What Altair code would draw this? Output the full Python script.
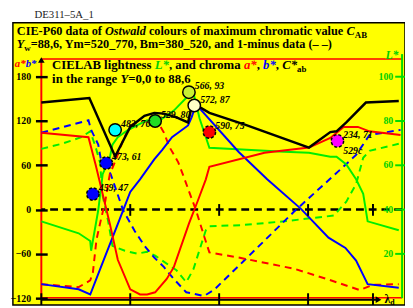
import altair as alt
import pandas as pd

# ---------------- values ----------------
X_MAX = 4.057            # dominant-wavelength axis, tick units
Y_MIN, Y_MAX = -120, 204  # a*, b*, C*ab scale

# solid curves
cab_x = [0, 0.54, 0.83, 1.00, 1.16, 1.27, 1.38, 1.52, 1.65, 1.68, 1.72, 1.89, 2.29, 3.01, 3.25, 3.32, 3.43, 3.65, 4.02]
cab_y = [145, 151, 72, 112, 127, 131, 130, 125, 118, 134, 143, 131, 115, 84, 105, 106, 118, 145, 147]

a_x = [0, 0.53, 0.61, 0.77, 0.86, 1.00, 1.11, 1.19, 1.28, 1.41, 1.49, 1.66, 1.76, 1.85, 1.89, 2.51, 3.01, 3.25, 3.40, 3.56, 3.69, 4.04]
a_y = [104, 98, 61, -19, -68, -108, -115, -115, -112, -94, -78, -19, 12, 41, 58, 77, 84, 97, 112, 112, 106, 101]

b_x = [0, 0.42, 0.55, 0.67, 0.80, 0.92, 1.00, 1.11, 1.27, 1.36, 1.47, 1.55, 1.65, 1.69, 1.73, 1.78, 2.22, 2.54, 2.92, 3.23, 3.42, 3.54, 3.67, 4.02]
b_y = [-101, -108, -115, -78, -38, -1, 24, 41, 68, 81, 98, 105, 114, 125, 139, 137, 78, 41, 1, -38, -52, -69, -101, -106]

L_x = [0, 0.42, 0.55, 0.56, 0.64, 0.69, 0.77, 0.80, 0.86, 0.97, 1.08, 1.19, 1.30, 1.49, 1.65, 1.71, 1.74, 1.78, 1.89, 2.73, 3.01, 3.25, 3.32, 3.43, 3.54, 3.62, 3.67, 4.02]
L_y = [34.7, 29.3, 25.8, 21.4, 39.7, 56, 63.4, 69.3, 72.7, 75.8, 78.1, 80.3, 79.4, 84.7, 91.3, 92.7, 87.8, 81.1, 67.9, 66.1, 65.7, 63.9, 63.9, 60.4, 53.7, 47.1, 34.7, 30.7]

# dashed (1-minus) curves
am_x = [0, 0.42, 0.55, 0.58, 0.62, 0.66, 0.72, 0.77, 0.83, 0.92, 1.00, 1.08, 1.30, 1.38, 1.44, 1.54, 1.60, 1.66, 1.74, 1.82, 1.89, 2.22, 2.59, 2.84, 3.21, 3.58, 3.73, 4.02]
am_y = [-101, -105, -96, -85, -41, -19, 12, 48, 65, 94, 114, 118, 121, 104, 85, 64, 45, 25, -1, -32, -58, -65, -74, -80, -94, -109, -102, -101]

bm_x = [0, 0.53, 0.56, 0.64, 0.67, 0.78, 0.92, 1.05, 1.16, 1.27, 1.38, 1.49, 1.63, 1.83, 1.94, 2.29, 2.84, 3.36, 3.54, 3.69, 4.04]
bm_y = [104, 121, 108, 88, 68, 48, -1, -29, -49, -65, -78, -94, -112, -117, -109, -68, -3, 54, 74, 101, 108]

Lm_x = [0, 0.23, 0.45, 0.55, 0.61, 0.66, 0.69, 0.75, 0.80, 0.94, 1.08, 1.19, 1.28, 1.36, 1.52, 1.63, 1.71, 1.78, 1.85, 1.89, 2.26, 2.73, 3.29, 3.43, 3.54, 3.62, 3.69, 4.02]
Lm_y = [67.4, 69.7, 72.7, 75.4, 68.3, 61.3, 46.2, 35.1, 23.6, 21.4, 20.1, 21, 19.2, 17, 12.6, 7.2, 13, 21.9, 30.7, 32.5, 33, 34.7, 37.3, 43.6, 51.5, 63.4, 66.5, 69.7]

# Ostwald colour points (position, L*)
pt_x = [0.58, 0.73, 0.83, 1.28, 1.66, 1.72, 1.89, 3.33]
pt_L = [47, 61, 76, 80, 93, 87, 75, 71]
pt_label = ["459, 47", "473, 61", "483, 76", "529, 80", "566, 93", "572, 87", "590, 75", "234, 71"]
pt_fill = ["#0000ff", "#0000ff", "#00ffff", "#22dd22", "#c8f032", "#ffffc8", "#ff0000", "#ff00ff"]
pt_dashed = [True, True, False, False, False, False, True, True]

y_ticks = [-120, -60, 0, 60, 120, 180]
L_ticks = [20, 40, 60, 80, 100]
x_ticks = [0, 1, 2, 3, 3.73]

# ---------------- layout ----------------
W, H = 368, 244
PAD = {"left": 34, "top": 49, "right": 3, "bottom": 7}
OX, OY = 42, 57  # page position of plot origin


def rel(px, py):
    return px - OX, py - OY


FONT = "Liberation Serif"
RED, BLUE, GREEN, GTXT = "#ff0000", "#0000ff", "#00ee00", "#00d000"

X = alt.X("x:Q", scale=alt.Scale(domain=[0, X_MAX], nice=False, zero=False), axis=None)
Y = alt.Y("y:Q", scale=alt.Scale(domain=[Y_MIN, Y_MAX], nice=False, zero=False),
          axis=alt.Axis(values=y_ticks, offset=-6, tickSize=12, tickWidth=2.5, tickColor="black",
                        domain=False, grid=False, labelFont=FONT, labelFontSize=10,
                        labelFontWeight="bold", labelColor="black", labelPadding=5,
                        title=None, zindex=1))


def df_line(xs, ys, is_L=False):
    return pd.DataFrame({"x": xs, "y": [(3 * v - 120) if is_L else v for v in ys],
                         "i": list(range(len(xs)))})


def line(xs, ys, color, dash=None, is_L=False, width=2):
    kw = dict(color=color, strokeWidth=width)
    if dash:
        kw["strokeDash"] = dash
    return alt.Chart(df_line(xs, ys, is_L)).mark_line(**kw).encode(x=X, y=Y, order="i:Q")


one = pd.DataFrame({"k": [0]})

# yellow panel
bx0, by0 = rel(13, 20)
bx1, by1 = rel(413, 308)
panel = alt.Chart(one).mark_rect(fill="#ffff00", stroke="black", strokeWidth=1.5).encode(
    x=alt.value(bx0), x2=alt.value(bx1), y=alt.value(by0), y2=alt.value(by1))

# frame lines (page coordinates -> relative)
frame_rows = []
for (p1, p2, c, w) in [((42, 57), (410, 57), RED, 1.5),
                       ((42, 57), (42, 301), RED, 2),
                       ((42, 300.5), (410, 300.5), RED, 1.5),
                       ((42, 302.5), (386, 302.5), "black", 2),
                       ((410, 52), (410, 301), "#00dd00", 2)]:
    a, b = rel(*p1), rel(*p2)
    frame_rows.append(dict(x1=a[0], y1=a[1], x2=b[0], y2=b[1], c=c, w=w))
frame = alt.Chart(pd.DataFrame(frame_rows)).mark_rule().encode(
    x=alt.X("x1:Q", scale=None), x2="x2:Q", y=alt.Y("y1:Q", scale=None), y2="y2:Q",
    color=alt.Color("c:N", scale=None), strokeWidth=alt.StrokeWidth("w:Q", scale=None))

zero = alt.Chart(one).mark_rule(color="black", strokeWidth=2.5, strokeDash=[8, 5]).encode(y=alt.datum(0))

xt = pd.DataFrame({"x": x_ticks})
ticks_zero = alt.Chart(xt[xt.x > 0]).mark_rule(color="black", strokeWidth=2).encode(
    x=X, y=alt.value(rel(0, 205)[1]), y2=alt.value(rel(0, 217)[1]))
ticks_bottom = alt.Chart(xt).mark_rule(color="black", strokeWidth=2).encode(
    x=X, y=alt.value(rel(0, 296)[1]), y2=alt.value(rel(0, 308)[1]))

lt = pd.DataFrame({"L": L_ticks})
r_ticks = alt.Chart(lt).transform_calculate(y="3*datum.L-120").mark_rule(
    color="#00dd00", strokeWidth=2).encode(y=Y, x=alt.value(rel(403, 0)[0]), x2=alt.value(rel(413, 0)[0]))
r_labels = alt.Chart(lt).transform_calculate(y="3*datum.L-120").mark_text(
    align="right", baseline="middle", font=FONT, fontWeight="bold", fontSize=10, color=GTXT).encode(
    y=Y, x=alt.value(rel(401, 0)[0]), text="L:Q")

# points
pts = pd.DataFrame({"x": pt_x, "y": [3 * v - 120 for v in pt_L], "fill": pt_fill,
                    "label": pt_label, "dashed": pt_dashed})
circ_solid = alt.Chart(pts[~pts.dashed]).mark_circle(size=160, opacity=1, stroke="black",
                                                     strokeWidth=1.5).encode(
    x=X, y=Y, color=alt.Color("fill:N", scale=None))
circ_dash = alt.Chart(pts[pts.dashed]).mark_circle(size=160, opacity=1, stroke="black",
                                                   strokeWidth=1.5, strokeDash=[3, 2]).encode(
    x=X, y=Y, color=alt.Color("fill:N", scale=None))
pt_text = alt.Chart(pts).mark_text(align="left", baseline="alphabetic", dx=6, dy=-3, font=FONT,
                                   fontStyle="italic", fontWeight="bold", fontSize=10,
                                   color="black").encode(x=X, y=Y, text="label:N")
pt_text2 = alt.Chart(pts[pts.label == "234, 71"]).mark_text(
    align="left", baseline="alphabetic", dx=6, dy=13, font=FONT, fontStyle="italic",
    fontWeight="bold", fontSize=10, color="black").encode(x=X, y=Y, text=alt.value("529c"))

# ---------------- text runs ----------------
BOLD = {' ': 250, '(': 333, ')': 333, '*': 500, ',': 250, '-': 333, '.': 250, '=': 570, '_': 500,
        '–': 500, 'A': 722, 'B': 667, 'C': 722, 'E': 667, 'I': 389, 'L': 667, 'P': 611, 'Y': 722,
        'a': 500, 'b': 556, 'c': 444, 'd': 556, 'e': 444, 'f': 333, 'g': 500, 'h': 556, 'i': 278,
        'l': 278, 'm': 833, 'n': 556, 'o': 500, 'r': 444, 's': 389, 't': 333, 'u': 556, 'v': 500,
        'w': 722, 'x': 500, 'y': 500}
ITAL = {'C': 667, 'L': 611, 'Y': 611, 'O': 722, 's': 389, 't': 278, 'w': 667, 'a': 500, 'l': 278,
        'd': 500, 'b': 500, '*': 500, ' ': 250}


def tw(s, size, italic):
    tab = ITAL if italic else BOLD
    return sum(tab.get(ch, 500) for ch in s) * size / 1000.0


text_rows = []


def run(page_x, page_base, parts):
    x, base = rel(page_x, page_base)
    for (txt, size, italic, color, dy) in parts:
        lead = txt[:len(txt) - len(txt.lstrip())]
        text_rows.append(dict(px=x + tw(lead, size, italic), py=base + dy, text=txt.strip(),
                              size=size, italic=italic, color=color))
        x += tw(txt, size, italic)


K = "black"
run(17, 33, [("CIE-P60 data of ", 12.5, False, K, 0), ("Ostwald", 12.5, True, K, 0),
             (" colours of maximum chromatic value ", 12.5, False, K, 0), ("C", 12.5, True, K, 0),
             ("AB", 9, False, K, 3)])
run(17, 46, [("Y", 12.5, True, K, 0), ("w", 9, False, K, 3),
             ("=88,6, Ym=520_770, Bm=380_520, and 1-minus data (–  –)", 12.5, False, K, 0)])
run(53, 67, [("CIELAB lightness ", 13, False, K, 0), ("L*", 13, True, GTXT, 0),
             (", and chroma ", 13, False, K, 0), ("a*", 13, True, RED, 0), (", ", 13, False, K, 0),
             ("b*", 13, True, BLUE, 0), (", ", 13, False, K, 0), ("C*", 13, True, K, 0),
             ("ab", 9, False, K, 3)])
run(53, 81.5, [("in the range ", 13, False, K, 0), ("Y", 13, True, K, 0), ("=0,0 to 88,6", 13, False, K, 0)])
run(15, 65, [("a*", 11, True, RED, 0), ("b*", 11, True, BLUE, 0)])
run(393, 57, [("L*", 12, True, GTXT, 0)])
run(392, 306, [("λ", 12, False, K, 0), ("d", 8, False, K, 2)])

tdf = pd.DataFrame(text_rows)
TX = alt.X("px:Q", scale=None)
TY = alt.Y("py:Q", scale=None)


def text_layer(df, italic):
    return alt.Chart(df).mark_text(align="left", baseline="alphabetic", font=FONT, fontWeight="bold",
                                   fontStyle="italic" if italic else "normal").encode(
        x=TX, y=TY, text="text:N", color=alt.Color("color:N", scale=None),
        size=alt.Size("size:Q", scale=None))


txt_norm = text_layer(tdf[~tdf.italic], False)
txt_ital = text_layer(tdf[tdf.italic], True)

hx, hy = rel(35, 15)
header = alt.Chart(one).mark_text(align="left", baseline="alphabetic", font=FONT, fontSize=11,
                                  color="#222222", text="DE311–5A_1").encode(
    x=alt.value(hx), y=alt.value(hy))

ax, ay = rel(42, 58)
arrow_up = alt.Chart(one).mark_point(shape="triangle-up", filled=True, color="black", size=45,
                                     opacity=1).encode(x=alt.value(ax), y=alt.value(ay))
rx, ry = rel(386, 302.5)
arrow_r = alt.Chart(one).mark_point(shape="triangle-right", filled=True, color="black", size=45,
                                    opacity=1).encode(x=alt.value(rx), y=alt.value(ry))

chart = alt.layer(
    panel, frame, zero,
    line(Lm_x, Lm_y, GREEN, [7, 5], True),
    line(bm_x, bm_y, BLUE, [7, 5]),
    line(am_x, am_y, RED, [7, 5]),
    line(L_x, L_y, GREEN, None, True),
    line(b_x, b_y, BLUE),
    line(a_x, a_y, RED),
    line(cab_x, cab_y, "black", None, False, 2.5),
    ticks_zero, ticks_bottom, r_ticks, r_labels,
    circ_dash, circ_solid, pt_text, pt_text2,
    txt_norm, txt_ital, header, arrow_up, arrow_r,
).properties(
    width=W, height=H, padding=PAD, autosize=alt.AutoSizeParams(type="none"),
    background="white",
).configure_view(strokeWidth=0)

chart.save("out.html", embed_options={"renderer": "svg", "actions": False})
